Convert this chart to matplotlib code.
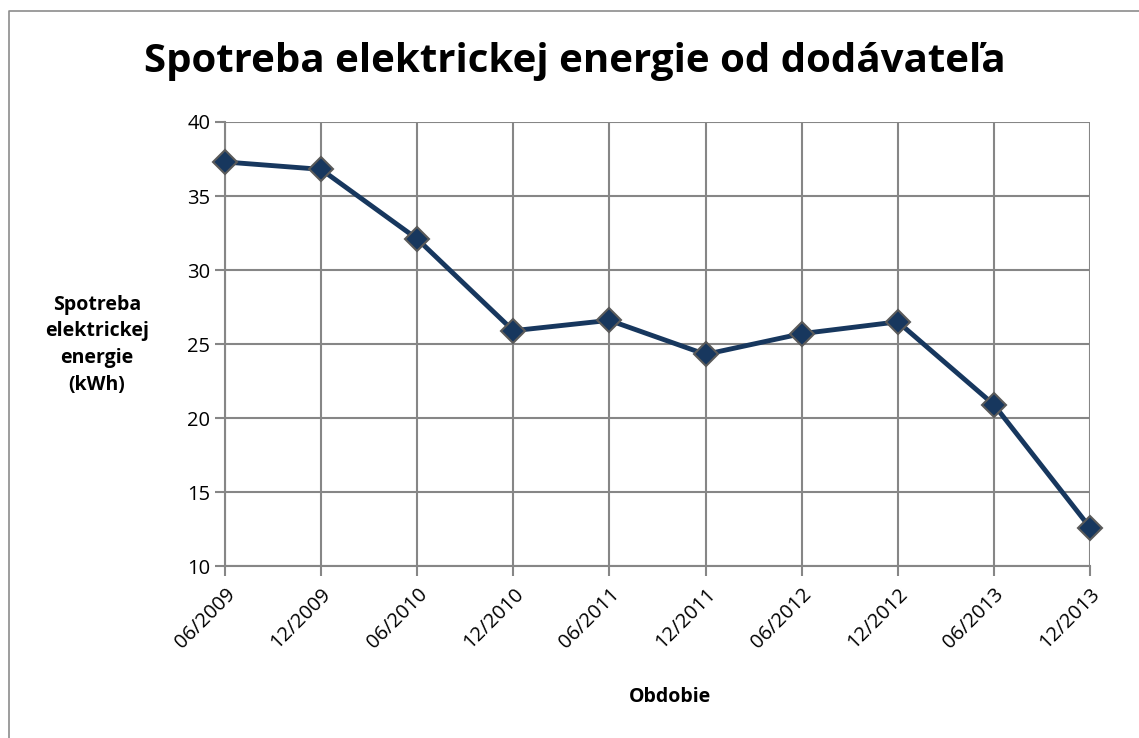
import matplotlib.pyplot as plt
from matplotlib.lines import Line2D

periods = ["06/2009", "12/2009", "06/2010", "12/2010", "06/2011",
           "12/2011", "06/2012", "12/2012", "06/2013", "12/2013"]
consumption = [37.3, 36.8, 32.1, 25.9, 26.6, 24.3, 25.7, 26.5, 20.9, 12.6]
y_ticks = [10, 15, 20, 25, 30, 35, 40]

plt.rcParams["font.family"] = ["Open Sans", "DejaVu Sans"]

fig = plt.figure(figsize=(11.39, 7.38), dpi=100)
ax = fig.add_axes([0.1975, 0.233, 0.7595, 0.6017])

# chart border (only top and left visible in the crop)
bx, by = 8.5 / 1139, 1 - 10.5 / 738
fig.lines.append(Line2D([bx, bx, 1.0], [0.0, by, by], transform=fig.transFigure,
                        color="#8c8c8c", linewidth=1.2))

x = list(range(len(periods)))
ax.plot(x, consumption, color="#17375e", linewidth=3.5, marker="D",
        markersize=12, markerfacecolor="#17375e", markeredgecolor="#5a5a5a",
        markeredgewidth=1.5, zorder=3, clip_on=False)

ax.set_xlim(0, len(periods) - 1)
ax.set_ylim(10, 40)
ax.set_yticks(y_ticks)
ax.set_xticks(x)
ax.set_xticklabels(periods, rotation=45, ha="right", rotation_mode="anchor")
ax.tick_params(axis="both", labelsize=14.5, length=7, color="#868686", width=1.5)
ax.tick_params(axis="x", pad=6)
ax.grid(True, color="#868686", linewidth=1.5)
ax.set_axisbelow(True)
for s in ["top", "right"]:
    ax.spines[s].set_visible(False)
for s in ["left", "bottom"]:
    ax.spines[s].set_color("#868686")
    ax.spines[s].set_linewidth(1.5)

fig.text(0.505, 0.916, "Spotreba elektrickej energie od dodávateľa",
         ha="center", va="center", fontsize=29, fontweight="bold")
fig.text(0.085, 0.533, "Spotreba\nelektrickej\nenergie\n(kWh)", ha="center",
         va="center", fontsize=14, fontweight="bold", linespacing=1.45)
fig.text(0.588, 0.056, "Obdobie", ha="center", va="center",
         fontsize=14, fontweight="bold")

fig.savefig("out.png", dpi=100)
